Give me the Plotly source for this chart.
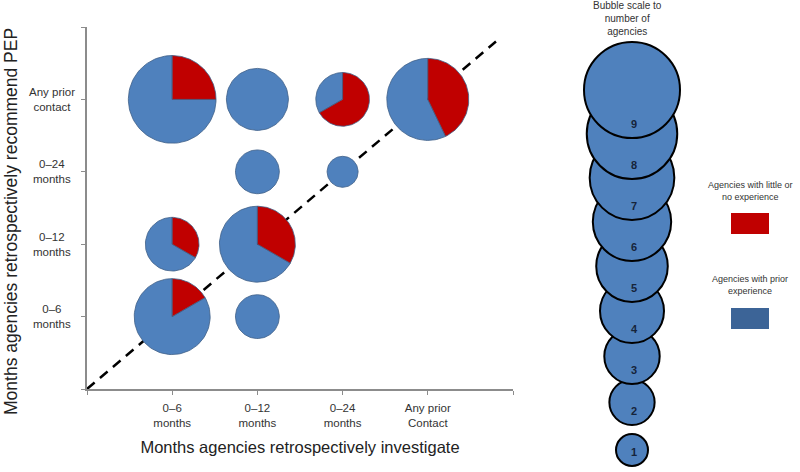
import numpy as np
import plotly.graph_objects as go

# ---------------- data ----------------
x_categories = ["0–6<br>months", "0–12<br>months", "0–24<br>months", "Any prior<br>Contact"]
y_categories = ["0–6<br>months", "0–12<br>months", "0–24<br>months", "Any prior<br>contact"]

# each cell: investigate index (1-4), recommend index (1-4)
cell_x = [1, 2, 3, 4, 1, 2, 2, 3, 1, 2]
cell_y = [4, 4, 4, 4, 2, 2, 3, 3, 1, 1]
little_experience = [2, 0, 2, 3, 1, 2, 0, 0, 1, 0]   # red
prior_experience = [6, 4, 1, 4, 2, 4, 2, 1, 5, 2]    # blue

legend_counts = [1, 2, 3, 4, 5, 6, 7, 8, 9]

RED = "#c00000"
BLUE = "#4f81bd"
BLUE_DARK = "#3c6497"
EDGE = "#3f5f88"

# ---------------- layout geometry ----------------
W, H = 800, 472
X0, X1 = 87, 513      # px of x axis range [0,5]
YB, YT = 389, 27      # px of y axis range [0,5]
XR = [0, 5]
YR = [0, 5]
px_per_x = (X1 - X0) / (XR[1] - XR[0])
px_per_y = (YB - YT) / (YR[1] - YR[0])
K_MAIN = 31.0   # bubble diameter px per sqrt(count)
K_LEG = 32.0

fig = go.Figure()

# diagonal dashed reference line (drawn first, pies on top)
fig.add_trace(go.Scatter(x=[0, 4.8], y=[0, 4.8], mode="lines",
                         line=dict(color="black", width=2.5, dash="10px,7px"),
                         hoverinfo="skip", showlegend=False, xaxis="x", yaxis="y"))


def wedge(cx, cy, r_px, a0, a1, n=80):
    rx = r_px / px_per_x
    ry = r_px / px_per_y
    th = np.linspace(a0, a1, n)
    xs = cx + rx * np.sin(th)
    ys = cy + ry * np.cos(th)
    if a1 - a0 < 2 * np.pi - 1e-9:
        xs = np.concatenate([[cx], xs, [cx]])
        ys = np.concatenate([[cy], ys, [cy]])
    return xs, ys


for cx, cy, red, blue in zip(cell_x, cell_y, little_experience, prior_experience):
    total = red + blue
    r_px = K_MAIN * np.sqrt(total) / 2
    a_red = 2 * np.pi * red / total
    if blue > 0:
        xs, ys = wedge(cx, cy, r_px, a_red, 2 * np.pi)
        fig.add_trace(go.Scatter(x=xs, y=ys, mode="lines", fill="toself",
                                 fillcolor=BLUE, line=dict(color=EDGE, width=0.8),
                                 hoverinfo="skip", showlegend=False,
                                 xaxis="x", yaxis="y"))
    if red > 0:
        xs, ys = wedge(cx, cy, r_px, 0, a_red)
        fig.add_trace(go.Scatter(x=xs, y=ys, mode="lines", fill="toself",
                                 fillcolor=RED, line=dict(color=EDGE, width=0.8),
                                 hoverinfo="skip", showlegend=False,
                                 xaxis="x", yaxis="y"))

# ---------------- bubble scale legend (pixel axes) ----------------
leg_d = [K_LEG * np.sqrt(n) for n in legend_counts]
leg_bottom = [466 - 41 * (n - 1) for n in legend_counts]
leg_cy = [b - d / 2 for b, d in zip(leg_bottom, leg_d)]
leg_x = [632] * len(legend_counts)
fig.add_trace(go.Scatter(x=leg_x, y=leg_cy, mode="markers",
                         marker=dict(size=leg_d, sizemode="diameter", color=BLUE,
                                     line=dict(color="black", width=2), opacity=1),
                         hoverinfo="skip", showlegend=False, xaxis="x2", yaxis="y2"))
fig.add_trace(go.Scatter(x=[634] * len(legend_counts), y=[b - 13 for b in leg_bottom],
                         mode="text", text=["<b>%d</b>" % n for n in legend_counts],
                         textfont=dict(size=11, color="#16243a", family="Liberation Sans"),
                         hoverinfo="skip", showlegend=False, xaxis="x2", yaxis="y2"))

# ---------------- annotations ----------------
ann = []
for i, lab in enumerate(y_categories):
    ann.append(dict(x=52 / W, xref="paper", y=i + 1, yref="y", text=lab,
                    showarrow=False, align="center", xanchor="center", yanchor="middle",
                    font=dict(size=11.5, color="#333333", family="Liberation Sans")))


def P(xp, yp):
    return xp / W, 1 - yp / H


for txt, (xp, yp), sz in [
    ("Bubble scale to<br>number of<br>agencies", (627, 18), 10),
    ("Agencies with little or<br>no experience", (750, 191), 9),
    ("Agencies with prior<br>experience", (750, 285), 9),
]:
    px_, py_ = P(xp, yp)
    ann.append(dict(x=px_, y=py_, xref="paper", yref="paper", text=txt, showarrow=False,
                    align="center", xanchor="center", yanchor="middle",
                    font=dict(size=sz, color="#333333", family="Liberation Sans")))

# y axis title as rotated annotation
tx, ty = P(11, 222)
ann.append(dict(x=tx, y=ty, xref="paper", yref="paper",
                text="Months agencies retrospectively recommend PEP",
                textangle=-90, showarrow=False, xanchor="center", yanchor="middle",
                font=dict(size=17.5, color="#222222", family="Liberation Sans")))

shapes = [
    dict(type="rect", xref="paper", yref="paper",
         x0=731 / W, x1=769 / W, y0=1 - 234 / H, y1=1 - 213 / H,
         fillcolor=RED, line=dict(width=0)),
    dict(type="rect", xref="paper", yref="paper",
         x0=731 / W, x1=769 / W, y0=1 - 329 / H, y1=1 - 308 / H,
         fillcolor=BLUE_DARK, line=dict(width=0)),
]

axis_common = dict(showgrid=False, zeroline=False, showline=True, linecolor="#8c8c8c",
                   linewidth=1.5, ticks="outside", ticklen=4, tickcolor="#8c8c8c",
                   tickwidth=1)

fig.update_layout(
    width=W, height=H,
    margin=dict(l=0, r=0, t=0, b=0),
    paper_bgcolor="white", plot_bgcolor="rgba(0,0,0,0)",
    font=dict(family="Liberation Sans", color="#333333"),
    xaxis=dict(domain=[X0 / W, X1 / W], range=XR, tickvals=[0, 1, 2, 3, 4, 5],
               ticktext=[""] + x_categories + [""],
               tickfont=dict(size=11.5, color="#333333"),
               ticklabelstandoff=3,
               title=dict(text="Months agencies retrospectively investigate",
                          font=dict(size=16.5, color="#222222"), standoff=14),
               anchor="y", **axis_common),
    yaxis=dict(domain=[1 - YB / H, 1 - YT / H], range=YR, tickvals=[0, 1, 2, 3, 4, 5],
               ticktext=[""] * 6,
               anchor="x", **axis_common),
    xaxis2=dict(domain=[0, 1], range=[0, W], visible=False, anchor="y2"),
    yaxis2=dict(domain=[0, 1], range=[H, 0], visible=False, anchor="x2"),
    annotations=ann,
    shapes=shapes,
    showlegend=False,
)

fig.write_html("out.html", config={"displayModeBar": False},
               post_script="document.body.style.margin='0';document.body.style.overflow='hidden';")
